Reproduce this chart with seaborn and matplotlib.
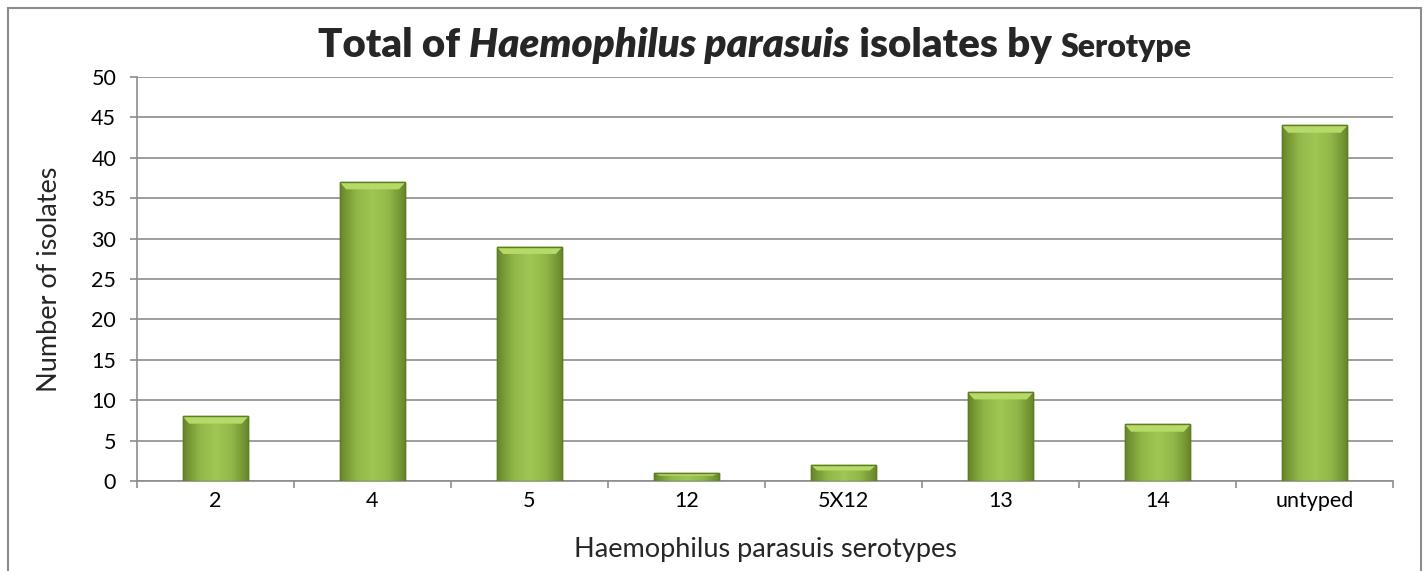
import numpy as np
import matplotlib
matplotlib.use('Agg')
import matplotlib.pyplot as plt
import seaborn as sns
from matplotlib.colors import LinearSegmentedColormap
from matplotlib.patches import Rectangle

# ── DATA ──────────────────────────────────────────────────────────────────────
SEROTYPES = ["2", "4", "5", "12", "5X12", "13", "14", "untyped"]
ISOLATES = [8, 37, 29, 1, 2, 11, 7, 44]
Y_TICKS = list(range(0, 51, 5))

GRID_GREY = "#8c8c8c"
FONT = ["Lato", "DejaVu Sans"]

sns.set_style("white")
plt.rcParams['font.family'] = FONT

fig = plt.figure(figsize=(14.28, 5.71), dpi=100)
ax = fig.add_axes([137 / 1428, 1 - 481 / 571, (1393 - 137) / 1428, (481 - 77) / 571])

sns.barplot(x=SEROTYPES, y=ISOLATES, color="#8fb443", width=0.42,
            edgecolor="#5f7d25", linewidth=1.0, ax=ax, zorder=3)

# soft horizontal shading on each bar, clipped to the bar shape
shade = LinearSegmentedColormap.from_list(
    "bar", ["#67872a", "#91b748", "#a0c654", "#91b748", "#67872a"])
for patch in ax.patches:
    x0, y0 = patch.get_x(), patch.get_y()
    w, h = patch.get_width(), patch.get_height()
    img = ax.imshow(np.linspace(0, 1, 64).reshape(1, -1), cmap=shade,
                    extent=[x0, x0 + w, y0, y0 + h], aspect='auto', zorder=4)
    img.set_clip_path(patch)
    # lighter top bevel (trapezoid)
    bev = min(0.9, h * 0.35)
    ax.fill([x0, x0 + w, x0 + w * 0.9, x0 + w * 0.1],
            [y0 + h, y0 + h, y0 + h - bev, y0 + h - bev],
            color="#b6da68", zorder=5, lw=0)
    ax.add_patch(Rectangle((x0, y0), w, h, fill=False, ec="#5f7d25",
                           lw=1.0, zorder=6))

ax.set_xlim(-0.5, len(SEROTYPES) - 0.5)
ax.set_ylim(0, 50)
ax.set_yticks(Y_TICKS)
ax.yaxis.grid(True, color=GRID_GREY, lw=1.2, zorder=0)
ax.set_axisbelow(True)

for s in ["top", "right"]:
    ax.spines[s].set_visible(False)
for s in ["left", "bottom"]:
    ax.spines[s].set_color(GRID_GREY)
    ax.spines[s].set_linewidth(1.2)

ax.tick_params(axis='y', left=True, length=5, width=1.2, color=GRID_GREY,
               pad=10, labelsize=15.5, labelcolor="black")
ax.tick_params(axis='x', which='major', bottom=False, length=0, pad=7,
               labelsize=15.5, labelcolor="black")
ax.set_xticks(np.arange(-0.5, len(SEROTYPES) + 0.5, 1), minor=True)
ax.tick_params(axis='x', which='minor', bottom=True, length=5, width=1.2,
               color=GRID_GREY)

ax.set_xlabel("Haemophilus parasuis serotypes", fontsize=19.5, labelpad=19)
ax.set_ylabel("Number of isolates", fontsize=19.5, labelpad=21)

# chart frame
fig.patches.append(Rectangle((8 / 1428, -0.05), 1413 / 1428, 1.05 - 8 / 571,
                             transform=fig.transFigure, fill=False,
                             ec="#8c8c8c", lw=1.5))

# title with mixed styles, laid out piece by piece
pieces = [("Total of ", "normal", 29), ("Haemophilus parasuis", "italic", 29),
          (" isolates by ", "normal", 29), ("Serotype", "normal", 23)]
fig.canvas.draw()
renderer = fig.canvas.get_renderer()
texts, widths = [], []
for txt, style, size in pieces:
    t = fig.text(0, 0, txt, fontsize=size, fontweight='heavy',
                 fontstyle=style, va='baseline', ha='left', family=FONT)
    widths.append(t.get_window_extent(renderer).width / fig.bbox.width)
    texts.append(t)
x = 755 / 1428 - sum(widths) / 2
for t, w in zip(texts, widths):
    t.set_x(x)
    t.set_y(1 - 57 / 571)
    x += w

fig.savefig("out.png", dpi=100)
